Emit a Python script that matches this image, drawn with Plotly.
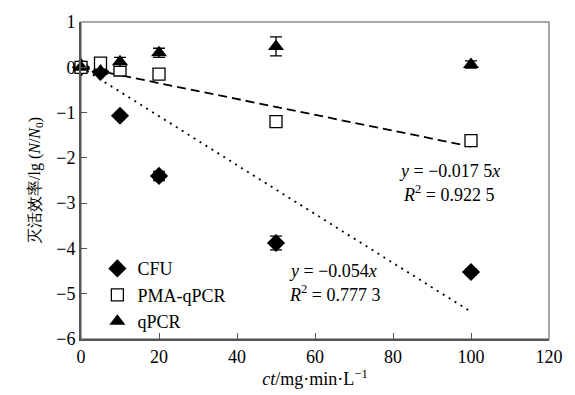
import plotly.graph_objects as go

ct = [0, 5, 10, 20, 50, 100]
cfu = [0, -0.1, -1.07, -2.4, -3.88, -4.52]
cfu_err = [0, 0, 0, 0.1, 0.15, 0.06]
pma = [0, 0.09, -0.06, -0.15, -1.2, -1.62]
pma_err = [0, 0, 0, 0, 0, 0.08]
qpcr = [0, -0.08, 0.12, 0.32, 0.46, 0.06]
qpcr_err = [0, 0, 0.1, 0.1, 0.21, 0.08]

slope_pma = -0.0175
slope_cfu = -0.054
fit_x = [0, 100]

FONT = "Liberation Serif"

L, R, T, B = 81, 556, 21, 346

fig = go.Figure()

fig.add_trace(go.Scatter(x=fit_x, y=[slope_pma * v for v in fit_x], mode="lines",
                         line=dict(color="black", width=1.8, dash="9px,5px"),
                         showlegend=False, hoverinfo="skip"))
fig.add_trace(go.Scatter(x=fit_x, y=[slope_cfu * v for v in fit_x], mode="lines",
                         line=dict(color="black", width=1.8, dash="2px,5px"),
                         showlegend=False, hoverinfo="skip"))

fig.add_trace(go.Scatter(x=ct, y=cfu, mode="markers", name="CFU", cliponaxis=False,
                         marker=dict(symbol="diamond", size=14, color="black"),
                         error_y=dict(type="data", array=cfu_err, color="black", thickness=1.3, width=6)))
fig.add_trace(go.Scatter(x=ct, y=pma, mode="markers", name="PMA-qPCR", cliponaxis=False,
                         marker=dict(symbol="square", size=12, color="white", line=dict(width=1.3, color="black")),
                         error_y=dict(type="data", array=pma_err, color="black", thickness=1.3, width=4)))
fig.add_trace(go.Scatter(x=ct, y=qpcr, mode="markers", name="qPCR", cliponaxis=False,
                         marker=dict(symbol="triangle-up", size=14, color="black"),
                         error_y=dict(type="data", array=qpcr_err, color="black", thickness=1.3, width=6)))

annots = [
    (455, 174, "<i>y</i> = −0.017 5<i>x</i>"),
    (454, 197, "<i>R</i><sup>2</sup> = 0.922 5"),
    (337, 276, "<i>y</i> = −0.054<i>x</i>"),
    (338, 299, "<i>R</i><sup>2</sup> = 0.777 3"),
]
for px, py, txt in annots:
    fig.add_annotation(x=(px - L) / (R - L), y=(B - py) / (B - T), xref="paper", yref="paper",
                       text=txt, showarrow=False, font=dict(size=18, color="black", family=FONT),
                       xanchor="center", yanchor="middle")

fig.add_shape(type="rect", xref="paper", yref="paper", x0=0, x1=1, y0=0, y1=1,
              line=dict(color="#8a8a8a", width=1.5), layer="below")

fig.update_layout(
    width=575, height=395,
    margin=dict(l=L, r=575 - R, t=T, b=395 - B),
    paper_bgcolor="white", plot_bgcolor="white",
    font=dict(family=FONT, size=18, color="black"),
    legend=dict(x=0.035, y=0.28, xanchor="left", yanchor="top", bgcolor="rgba(0,0,0,0)",
                font=dict(size=18, family=FONT), tracegroupgap=0, itemwidth=30),
    xaxis=dict(range=[0, 120], dtick=20, showgrid=False, zeroline=False,
               showline=True, linecolor="#555555", linewidth=2,
               ticks="inside", ticklen=6, tickcolor="#555555",
               tickfont=dict(size=18, family=FONT),
               title=dict(text="<i>ct</i>/mg·min·L<sup>−1</sup>", font=dict(size=18, family=FONT), standoff=4)),
    yaxis=dict(range=[-6, 1], dtick=1, showgrid=False, zeroline=False,
               showline=True, linecolor="#555555", linewidth=2,
               ticks="inside", ticklen=6, tickcolor="#555555",
               tickfont=dict(size=18, family=FONT), tickformat="d",
               title=dict(text="灭活效率/lg (<i>N</i>/<i>N</i><sub>0</sub>)", font=dict(size=16, family=FONT), standoff=12)),
)

fig.write_html("out.html")
